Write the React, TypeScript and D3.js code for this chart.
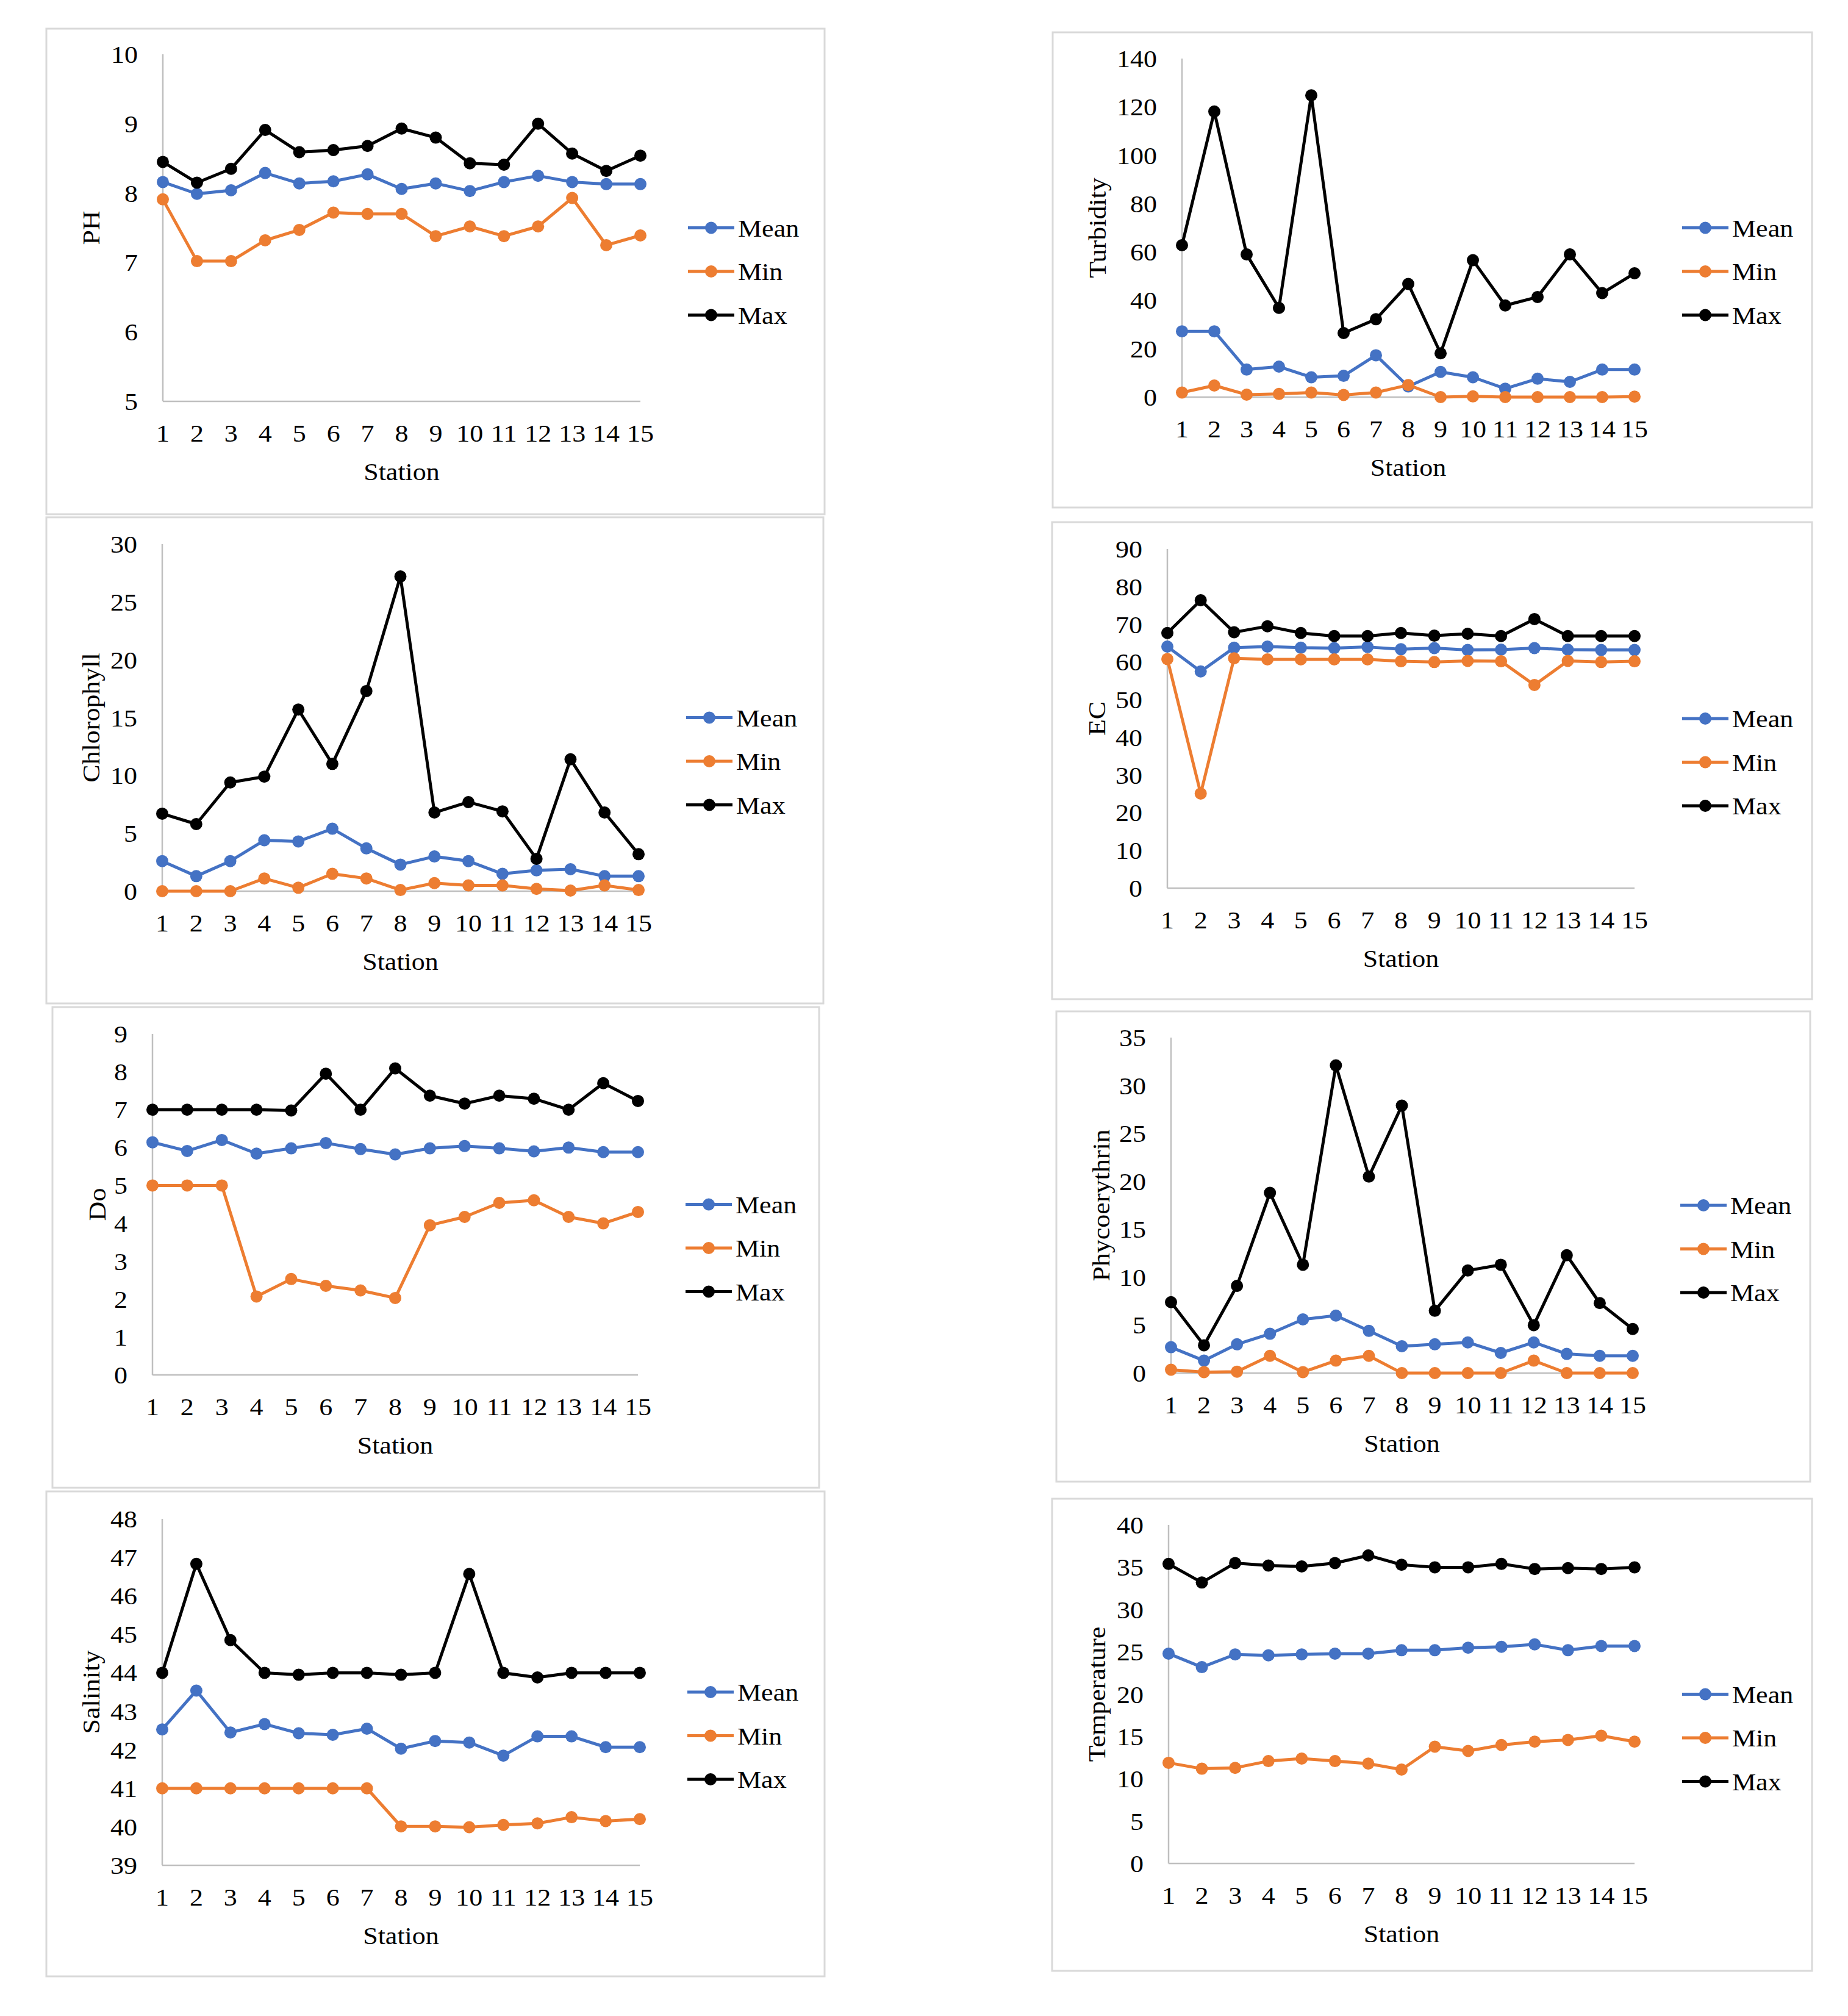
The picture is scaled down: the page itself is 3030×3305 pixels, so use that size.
import React from 'react';
import * as d3 from 'd3';

// station numbers along the x axis
const stations = [1, 2, 3, 4, 5, 6, 7, 8, 9, 10, 11, 12, 13, 14, 15];
const seriesNames = ['Mean', 'Min', 'Max'];
const seriesColors = ['#4472C4', '#ED7D31', '#000000'];

// PH
const phMean = [8.16, 7.99, 8.04, 8.29, 8.14, 8.17, 8.27, 8.06, 8.14, 8.03, 8.16, 8.25, 8.16, 8.13, 8.13];
const phMin = [7.91, 7.02, 7.02, 7.32, 7.47, 7.72, 7.7, 7.7, 7.38, 7.52, 7.38, 7.52, 7.93, 7.25, 7.39];
const phMax = [8.45, 8.15, 8.35, 8.91, 8.59, 8.62, 8.68, 8.93, 8.8, 8.43, 8.41, 9.0, 8.57, 8.32, 8.54];
const phTicks = [5, 6, 7, 8, 9, 10];

// Turbidity
const turbMean = [27.2, 27.2, 11.4, 12.6, 8.2, 8.8, 17.3, 4.4, 10.4, 8.2, 3.5, 7.6, 6.3, 11.4, 11.4];
const turbMin = [1.9, 4.8, 1.0, 1.3, 1.9, 0.9, 1.9, 5.0, 0, 0.3, 0, 0, 0, 0, 0.2];
const turbMax = [62.8, 118.1, 59, 36.9, 124.8, 26.5, 32.2, 46.8, 18.1, 56.6, 37.9, 41.4, 59, 43, 51.2];
const turbTicks = [0, 20, 40, 60, 80, 100, 120, 140];

// Chlorophyll
const chlMean = [2.6, 1.3, 2.6, 4.4, 4.3, 5.4, 3.7, 2.3, 3.0, 2.6, 1.5, 1.8, 1.9, 1.3, 1.3];
const chlMin = [0, 0, 0, 1.1, 0.3, 1.5, 1.1, 0.1, 0.7, 0.5, 0.5, 0.2, 0.05, 0.5, 0.1];
const chlMax = [6.7, 5.8, 9.4, 9.9, 15.7, 11.0, 17.3, 27.2, 6.8, 7.7, 6.9, 2.8, 11.4, 6.8, 3.2];
const chlTicks = [0, 5, 10, 15, 20, 25, 30];

// EC
const ecMean = [64.1, 57.5, 63.8, 64.1, 63.8, 63.7, 64.0, 63.4, 63.7, 63.2, 63.3, 63.7, 63.3, 63.2, 63.2];
const ecMin = [60.8, 25.1, 61.0, 60.7, 60.7, 60.7, 60.7, 60.2, 60.0, 60.3, 60.2, 53.9, 60.3, 60.0, 60.2];
const ecMax = [67.7, 76.4, 67.9, 69.5, 67.7, 66.9, 66.9, 67.7, 67.0, 67.5, 66.9, 71.4, 66.9, 66.9, 66.9];
const ecTicks = [0, 10, 20, 30, 40, 50, 60, 70, 80, 90];

// Do
const doMean = [6.14, 5.91, 6.2, 5.84, 5.98, 6.12, 5.96, 5.82, 5.98, 6.04, 5.98, 5.9, 6.0, 5.88, 5.88];
const doMin = [5.0, 5.0, 5.0, 2.07, 2.53, 2.35, 2.23, 2.03, 3.95, 4.17, 4.54, 4.61, 4.17, 4.0, 4.3];
const doMax = [7.0, 7.0, 7.0, 7.0, 6.98, 7.95, 7.0, 8.09, 7.37, 7.16, 7.37, 7.29, 7.0, 7.7, 7.23];
const doTicks = [0, 1, 2, 3, 4, 5, 6, 7, 8, 9];

// Phycoerythrin
const pheMean = [2.7, 1.3, 3.0, 4.1, 5.6, 6.0, 4.4, 2.8, 3.0, 3.2, 2.1, 3.2, 2.0, 1.8, 1.8];
const pheMin = [0.35, 0.1, 0.15, 1.8, 0.1, 1.3, 1.8, 0, 0, 0, 0, 1.3, 0, 0, 0];
const pheMax = [7.4, 2.9, 9.1, 18.8, 11.3, 32.1, 20.5, 27.9, 6.5, 10.7, 11.3, 5.0, 12.3, 7.3, 4.6];
const pheTicks = [0, 5, 10, 15, 20, 25, 30, 35];

// Salinity
const salMean = [42.53, 43.54, 42.45, 42.67, 42.43, 42.39, 42.55, 42.03, 42.23, 42.19, 41.85, 42.35, 42.35, 42.07, 42.07];
const salMin = [41.0, 41.0, 41.0, 41.0, 41.0, 41.0, 41.0, 40.01, 40.01, 39.99, 40.05, 40.09, 40.25, 40.15, 40.2];
const salMax = [44.0, 46.83, 44.85, 44.0, 43.95, 44.0, 44.0, 43.95, 44.0, 46.57, 44.0, 43.88, 44.0, 44.0, 44.0];
const salTicks = [39, 40, 41, 42, 43, 44, 45, 46, 47, 48];

// Temperature
const tempMean = [24.8, 23.2, 24.7, 24.6, 24.7, 24.8, 24.8, 25.2, 25.2, 25.5, 25.6, 25.9, 25.2, 25.7, 25.7];
const tempMin = [11.9, 11.2, 11.3, 12.1, 12.4, 12.1, 11.8, 11.1, 13.8, 13.3, 14.0, 14.4, 14.6, 15.1, 14.4];
const tempMax = [35.4, 33.2, 35.5, 35.2, 35.1, 35.5, 36.4, 35.3, 35.0, 35.0, 35.4, 34.8, 34.9, 34.8, 35.0];
const tempTicks = [0, 5, 10, 15, 20, 25, 30, 35, 40];

const FONT = '"Liberation Serif", "Times New Roman", serif';
const FS = 40;
const STRETCH = 1.1; // the source text is a bit wider than plain Times

type Box = [number, number, number, number];

interface PanelCfg {
  title: string;
  series: number[][];
  ticks: number[];
  box: Box;   // panel frame x0, y0, x1, y1
  plot: Box;  // plot area left, top, right, bottom
}

const panels: PanelCfg[] = [
  { title: 'PH', series: [phMean, phMin, phMax], ticks: phTicks, box: [76, 47, 1352, 843], plot: [267, 89, 1050, 658] },
  { title: 'Turbidity', series: [turbMean, turbMin, turbMax], ticks: turbTicks, box: [1726, 53, 2971, 832], plot: [1938, 96, 2680, 651] },
  { title: 'Chlorophyll', series: [chlMean, chlMin, chlMax], ticks: chlTicks, box: [76, 848, 1350, 1645], plot: [266, 892, 1047, 1461] },
  { title: 'EC', series: [ecMean, ecMin, ecMax], ticks: ecTicks, box: [1725, 856, 2971, 1638], plot: [1914, 900, 2680, 1456] },
  { title: 'Do', series: [doMean, doMin, doMax], ticks: doTicks, box: [86, 1651, 1343, 2439], plot: [250, 1695, 1046, 2254] },
  { title: 'Phycoerythrin', series: [pheMean, pheMin, pheMax], ticks: pheTicks, box: [1732, 1658, 2968, 2429], plot: [1920, 1701, 2677, 2251] },
  { title: 'Salinity', series: [salMean, salMin, salMax], ticks: salTicks, box: [76, 2445, 1352, 3240], plot: [266, 2490, 1049, 3058] },
  { title: 'Temperature', series: [tempMean, tempMin, tempMax], ticks: tempTicks, box: [1725, 2457, 2971, 3231], plot: [1916, 2500, 2680, 3055] },
];

const Label = ({ x, y, text, anchor = 'middle', rotate = 0 }: { x: number; y: number; text: string; anchor?: string; rotate?: number }) => (
  <g transform={`translate(${x},${y}) rotate(${rotate}) scale(${STRETCH},1)`}>
    <text x={0} y={0} dy="0.35em" textAnchor={anchor} fontFamily={FONT} fontSize={FS} fill="#000">
      {text}
    </text>
  </g>
);

const Panel = ({ cfg }: { cfg: PanelCfg }) => {
  const [bx0, by0, bx1, by1] = cfg.box;
  const [left, top, right, bottom] = cfg.plot;
  const x = d3.scalePoint<number>().domain(stations).range([left, right]).padding(0);
  const y = d3.scaleLinear().domain(d3.extent(cfg.ticks) as [number, number]).range([bottom, top]);
  const line = d3.line<number>().x((_, i) => x(stations[i]) as number).y(d => y(d));
  const midY = (top + bottom) / 2;
  const legX = right + 78;

  return (
    <g>
      <rect x={bx0} y={by0} width={bx1 - bx0} height={by1 - by0} fill="#fff" stroke="#D9D9D9" strokeWidth={3} />
      {/* axes */}
      <line x1={left} x2={left} y1={top} y2={bottom} stroke="#BFBFBF" strokeWidth={2.5} />
      <line x1={left} x2={right} y1={bottom} y2={bottom} stroke="#BFBFBF" strokeWidth={2.5} />
      {cfg.ticks.map(t => (
        <Label key={t} x={left - 41} y={y(t)} text={String(t)} anchor="end" />
      ))}
      {stations.map(s => (
        <Label key={s} x={x(s) as number} y={bottom + 52} text={String(s)} />
      ))}
      <Label x={(left + right) / 2} y={bottom + 115} text="Station" />
      <Label x={bx0 + 73} y={midY} text={cfg.title} rotate={-90} />
      {/* series: Mean, Min, Max */}
      {cfg.series.map((vals, k) => (
        <g key={k}>
          <path d={line(vals) || ''} fill="none" stroke={seriesColors[k]} strokeWidth={5} strokeLinejoin="round" />
          {vals.map((v, i) => (
            <circle key={i} cx={x(stations[i]) as number} cy={y(v)} r={10} fill={seriesColors[k]} />
          ))}
        </g>
      ))}
      {/* legend */}
      {seriesNames.map((name, k) => {
        const ly = midY + k * 71.5;
        return (
          <g key={name}>
            <line x1={legX} x2={legX + 76} y1={ly} y2={ly} stroke={seriesColors[k]} strokeWidth={5} />
            <circle cx={legX + 38} cy={ly} r={10} fill={seriesColors[k]} />
            <Label x={legX + 82} y={ly} text={name} anchor="start" />
          </g>
        );
      })}
    </g>
  );
};

export default function App() {
  return (
    <svg
      width={3030}
      height={3305}
      viewBox="0 0 3030 3305"
      style={{ position: 'absolute', left: 0, top: 0, display: 'block' }}
    >
      <rect x={0} y={0} width={3030} height={3305} fill="#fff" />
      {panels.map(p => (
        <Panel key={p.title} cfg={p} />
      ))}
    </svg>
  );
}
